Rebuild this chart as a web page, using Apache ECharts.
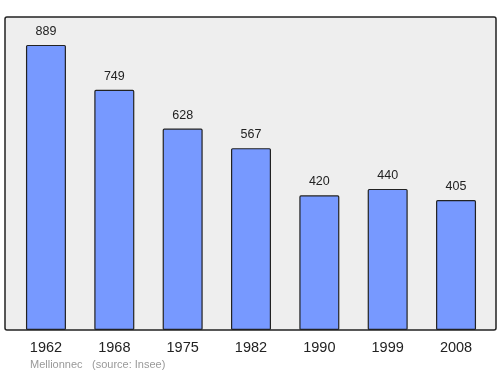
<!DOCTYPE html>
<html><head><meta charset="utf-8">
<script src="https://cdn.jsdelivr.net/npm/echarts@6/dist/echarts.min.js"></script>
<style>html,body{margin:0;padding:0;background:#fff}#c{width:500px;height:374px}</style>
</head><body><div id="c"></div>
<script>
const categories = ['1962','1968','1975','1982','1990','1999','2008'];
const population = [889,749,628,567,420,440,405];
const footerName = 'Mellionnec';
const footerSource = '(source: Insee)';

const chart = echarts.init(document.getElementById('c'));
chart.setOption({
  animation: false,
  graphic: [
    {type:'rect', shape:{x:5,y:17,width:491,height:313,r:2}, style:{fill:'#eeeeee',stroke:'#222',lineWidth:1.5}, z:-10},
    {type:'text', left:30, top:359, style:{text:footerName, fill:'#999', font:'11px "Liberation Sans", Arial, sans-serif'}},
    {type:'text', left:92, top:359, style:{text:footerSource, fill:'#999', font:'11px "Liberation Sans", Arial, sans-serif'}}
  ],
  grid: {left:11.8, right:500-490.2, top:17, bottom:44},
  xAxis: {type:'category', data:categories,
    axisLine:{show:false}, axisTick:{show:false},
    axisLabel:{fontSize:14.5, color:'#222', margin:10, fontFamily:'Liberation Sans'}},
  yAxis: {type:'value', min:0, max:976, show:false, splitLine:{show:false}},
  series: [{type:'bar', data:population, barWidth:40,
    itemStyle:{color:'#7799ff', borderColor:'#222', borderWidth:1.2, borderRadius:1},
    label:{show:true, position:'top', distance:7, fontSize:12.5, color:'#222', fontFamily:'Liberation Sans'}}]
});
</script></body></html>
